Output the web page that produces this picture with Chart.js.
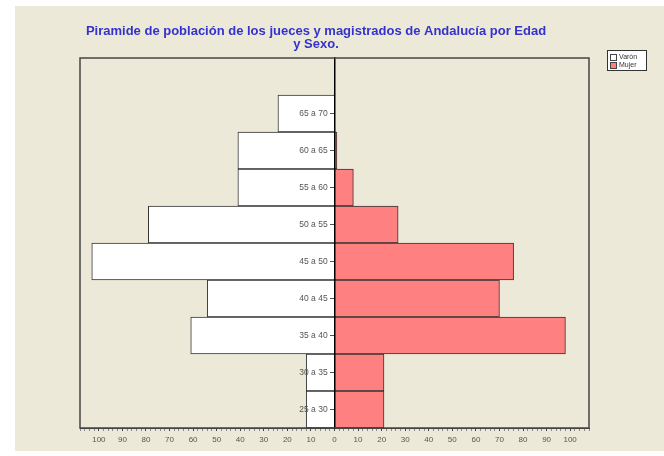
<!DOCTYPE html>
<html>
<head>
<meta charset="utf-8">
<script src="https://cdn.jsdelivr.net/npm/chart.js@4/dist/chart.umd.min.js"></script>
<style>
  html, body { margin: 0; padding: 0; background: #fff; }
  #wrap { width: 664px; height: 456px; }
</style>
</head>
<body>
<div id="wrap"><canvas id="pyramid" width="664" height="456"></canvas></div>
<script>
// age groups, top to bottom (first slot is empty in the original)
const ageGroups = ["", "65 a 70", "60 a 65", "55 a 60", "50 a 55", "45 a 50", "40 a 45", "35 a 40", "30 a 35", "25 a 30"];
const varon = [0, 24, 41, 41, 79, 103, 54, 61, 12, 12];
const mujer = [0, 0, 1, 8, 27, 76, 70, 98, 21, 21];
const titleLines = ["Piramide de población de los jueces y magistrados de Andalucía por Edad", "y Sexo."];

const beige = "#ece9d8";

// panel background, plot frame, title and small legend box
const decor = {
    id: "decor",
    beforeDraw(chart) {
        const ctx = chart.ctx;
        ctx.save();
        ctx.fillStyle = beige;
        ctx.fillRect(15, 6, chart.width - 15, 445);
        ctx.restore();
    },
    afterDraw(chart) {
        const ctx = chart.ctx;
        const a = chart.chartArea;
        ctx.save();
        ctx.strokeStyle = "#444";
        ctx.lineWidth = 1.5;
        ctx.strokeRect(a.left, a.top, a.right - a.left, a.bottom - a.top);

        ctx.fillStyle = "#3333cc";
        ctx.font = "bold 13px Arial, 'Liberation Sans'";
        ctx.textAlign = "center";
        ctx.textBaseline = "middle";
        ctx.fillText(titleLines[0], 316, 31);
        ctx.fillText(titleLines[1], 316, 44);

        // legend
        ctx.fillStyle = "#fff";
        ctx.fillRect(607, 50, 39, 20);
        ctx.strokeStyle = "#333";
        ctx.lineWidth = 1;
        ctx.strokeRect(607.5, 50.5, 39, 20);
        ctx.font = "7px Arial, 'Liberation Sans'";
        ctx.textAlign = "left";
        chart.data.datasets.forEach((ds, i) => {
            const y = 54 + i * 8;
            ctx.fillStyle = ds.backgroundColor;
            ctx.fillRect(610, y, 6, 6);
            ctx.strokeStyle = "#444";
            ctx.strokeRect(610.5, y + 0.5, 6, 6);
            ctx.fillStyle = "#333";
            ctx.fillText(ds.label, 619, y + 3.5);
        });
        ctx.restore();
    }
};

new Chart(document.getElementById("pyramid").getContext("2d"), {
    type: "bar",
    data: {
        labels: ageGroups,
        datasets: [{
            label: "Varón",
            data: varon.map(v => -v),
            backgroundColor: "#ffffff",
            borderColor: "#333",
            borderWidth: 1,
            barPercentage: 1,
            categoryPercentage: 1
        }, {
            label: "Mujer",
            data: mujer,
            backgroundColor: "#ff8080",
            borderColor: "#333",
            borderWidth: 1,
            barPercentage: 1,
            categoryPercentage: 1
        }]
    },
    options: {
        indexAxis: "y",
        responsive: false,
        animation: false,
        layout: { padding: { top: 58, left: 80, right: 75, bottom: 0 } },
        plugins: {
            legend: { display: false },
            title: { display: false },
            tooltip: { enabled: false }
        },
        scales: {
            x: {
                stacked: true,
                min: -108,
                max: 108,
                afterFit: (scale) => { scale.height = 28; },
                grid: { drawOnChartArea: false, drawTicks: true, tickLength: 3,
                        tickColor: (c) => (c.tick && c.tick.value % 10 === 0) ? "#444" : "#888" },
                border: { display: true, color: "#444" },
                ticks: {
                    stepSize: 2,
                    autoSkip: false,
                    maxRotation: 0,
                    padding: 4,
                    color: "#555",
                    font: { family: "Arial, 'Liberation Sans'", size: 8 },
                    callback: (v) => v % 10 === 0 ? Math.abs(v) : ""
                }
            },
            // zero line with the small tick marks
            y: {
                stacked: true,
                position: { x: 0 },
                grid: { drawOnChartArea: false, offset: false, tickLength: 4, z: 1,
                        tickColor: (c) => ageGroups[c.index] ? "#555" : "rgba(0,0,0,0)" },
                border: { display: true, color: "#000", width: 1.5, z: 1 },
                ticks: { display: false }
            },
            // age labels just left of the zero line
            yl: {
                type: "category",
                axis: "y",
                offset: true,
                position: { x: -2.9 },
                grid: { display: false },
                border: { display: false },
                ticks: {
                    z: 1,
                    autoSkip: false,
                    color: "#555",
                    font: { family: "Arial, 'Liberation Sans'", size: 8.5 }
                }
            }
        }
    },
    plugins: [decor]
});
</script>
</body>
</html>
